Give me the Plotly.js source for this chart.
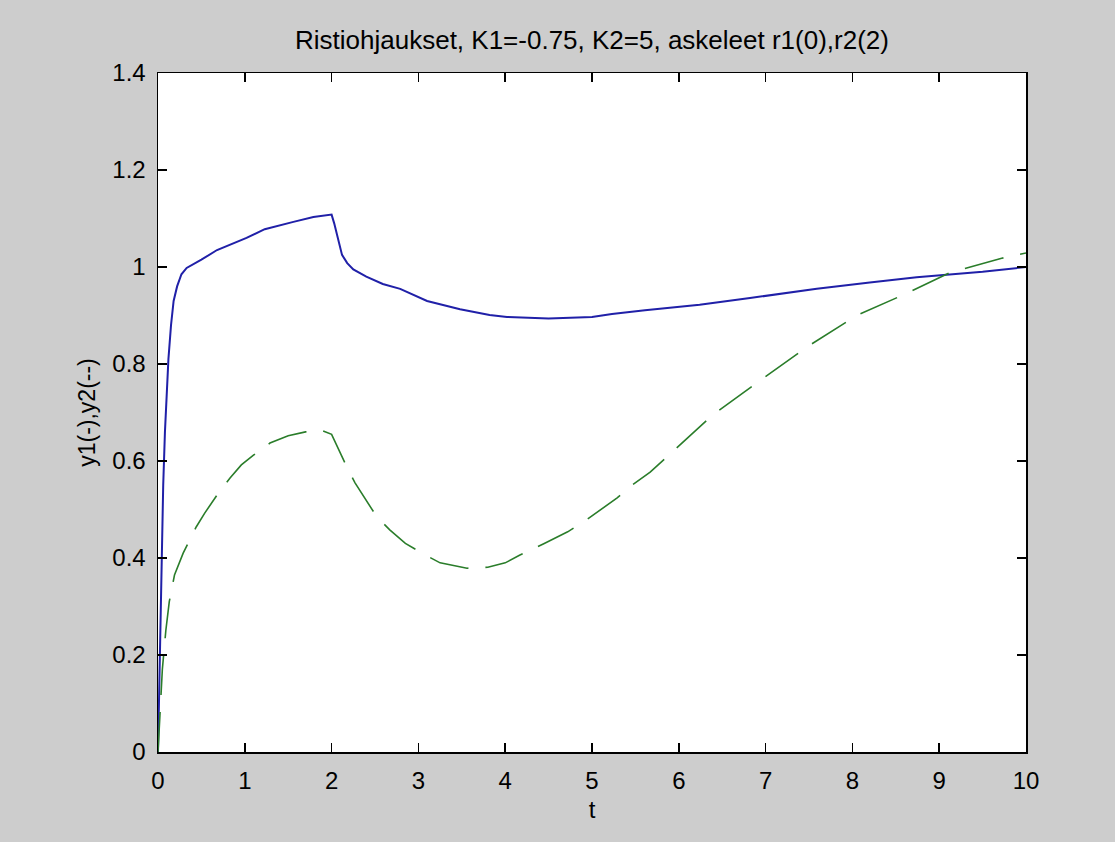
<!DOCTYPE html>
<html>
<head>
<meta charset="utf-8">
<script src="https://cdn.plot.ly/plotly-3.0.1.min.js"></script>
<style>
html,body{margin:0;padding:0;background:#cdcdcd;}
#chart{width:1115px;height:842px;}
</style>
</head>
<body>
<div id="chart"></div>
<script>
// y1 (solid blue)
const t1 = [0, 0.02, 0.04, 0.06, 0.08, 0.10, 0.12, 0.15, 0.18, 0.22, 0.27, 0.33, 0.4, 0.5, 0.68, 0.85, 1.02, 1.23, 1.4, 1.56, 1.79, 2.0, 2.03, 2.06, 2.12, 2.18, 2.25, 2.4, 2.59, 2.79, 3.1, 3.48, 3.82, 4.02, 4.5, 5.0, 5.23, 5.61, 6.24, 6.82, 7.59, 8.2, 8.74, 9.5, 10];
const y1 = [0, 0.2, 0.4, 0.55, 0.66, 0.74, 0.81, 0.88, 0.93, 0.96, 0.985, 0.998, 1.005, 1.015, 1.035, 1.048, 1.06, 1.078, 1.085, 1.093, 1.103, 1.108, 1.09, 1.07, 1.025, 1.008, 0.995, 0.98, 0.965, 0.955, 0.93, 0.913, 0.901, 0.897, 0.894, 0.897, 0.903, 0.911, 0.922, 0.936, 0.955, 0.968, 0.979, 0.99, 1.0];
// y2 (dashed green)
const t2 = [0, 0.01, 0.03, 0.05, 0.09, 0.13, 0.19, 0.29, 0.44, 0.54, 0.7, 0.83, 0.96, 1.1, 1.29, 1.5, 1.7, 1.87, 2.0, 2.09, 2.18, 2.27, 2.4, 2.52, 2.67, 2.85, 3.08, 3.25, 3.56, 3.8, 4.0, 4.17, 4.45, 4.72, 4.9, 5.29, 5.46, 5.67, 5.86, 6.01, 6.24, 6.39, 6.96, 7.51, 8.06, 8.63, 9.12, 9.72, 10];
const y2 = [0, 0.04, 0.093, 0.17, 0.25, 0.31, 0.365, 0.41, 0.464, 0.493, 0.535, 0.565, 0.592, 0.612, 0.637, 0.652, 0.66, 0.664, 0.655, 0.62, 0.586, 0.555, 0.52, 0.485, 0.458, 0.43, 0.406, 0.39, 0.379, 0.381, 0.39, 0.406, 0.43, 0.454, 0.474, 0.524, 0.55, 0.577, 0.608, 0.633, 0.67, 0.695, 0.769, 0.839, 0.901, 0.946, 0.988, 1.018, 1.029];

const xTicks = [0,1,2,3,4,5,6,7,8,9,10];
const yTicks = [0,0.2,0.4,0.6,0.8,1,1.2,1.4];
const yTickText = ['0','0.2','0.4','0.6','0.8','1','1.2','1.4'];

const titleText = 'Ristiohjaukset, K1=-0.75, K2=5, askeleet r1(0),r2(2)';
const xLabel = 't';
const yLabel = 'y1(-),y2(--)';

const FONT = 'Liberation Sans, Arial, sans-serif';

const traces = [
  {x: t1, y: y1, type: 'scatter', mode: 'lines', line: {color: '#2020a8', width: 2}, hoverinfo: 'skip'},
  {x: t2, y: y2, type: 'scatter', mode: 'lines', line: {color: '#2a7d2a', width: 1.6, dash: '40px,17px'}, hoverinfo: 'skip'}
];

const axisCommon = {
  showgrid: false, zeroline: false,
  showline: true, linecolor: '#000', linewidth: 1.5, mirror: 'ticks',
  ticks: 'inside', ticklen: 9, tickwidth: 1.5, tickcolor: '#000',
  tickfont: {family: FONT, size: 24, color: '#000'}
};

const layout = {
  width: 1115, height: 842,
  paper_bgcolor: '#cdcdcd', plot_bgcolor: '#ffffff',
  margin: {l: 158, r: 89, t: 73, b: 90},
  showlegend: false,
  title: {text: titleText, font: {family: FONT, size: 26, color: '#000'}, x: 0.5, xref: 'paper', y: 1 - 40/842, yref: 'container', yanchor: 'middle'},
  xaxis: Object.assign({}, axisCommon, {
    range: [0, 10], tickvals: xTicks, ticktext: xTicks.map(String), ticklabelstandoff: 7,
    title: {text: xLabel, font: {family: FONT, size: 24, color: '#000'}, standoff: 8}
  }),
  yaxis: Object.assign({}, axisCommon, {
    range: [0, 1.4], tickvals: yTicks, ticktext: yTickText, ticklabelstandoff: 6,
    title: {text: yLabel, font: {family: FONT, size: 23, color: '#000'}, standoff: 10}
  })
};

Plotly.newPlot('chart', traces, layout, {staticPlot: true, displayModeBar: false});
</script>
</body>
</html>
